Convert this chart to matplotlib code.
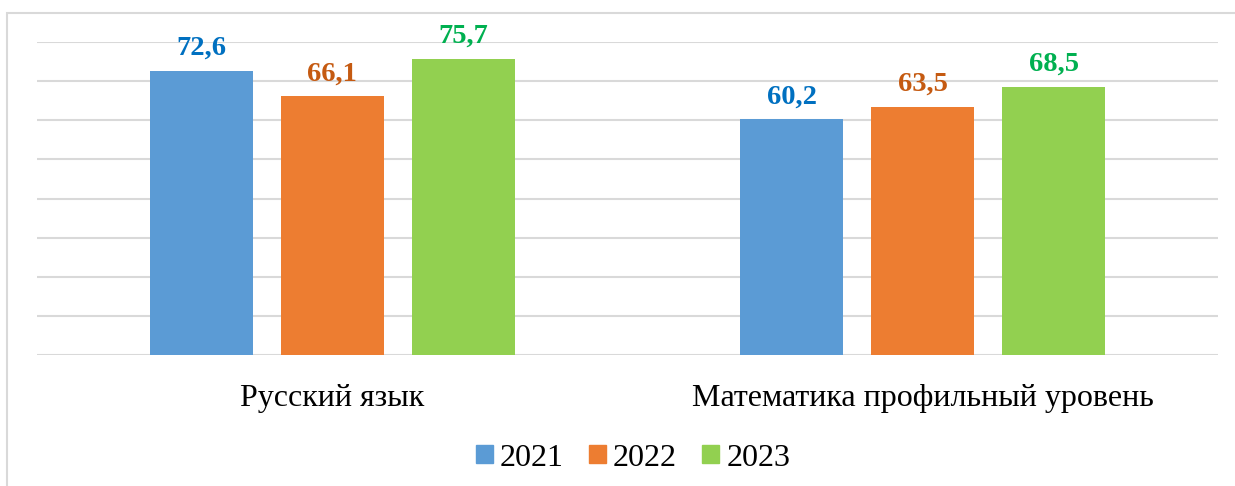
import numpy as np
import matplotlib.pyplot as plt
from matplotlib.patches import Rectangle

categories = ['Русский язык', 'Математика профильный уровень']
years = ['2021', '2022', '2023']
v2021 = [72.6, 60.2]
v2022 = [66.1, 63.5]
v2023 = [75.7, 68.5]

bar_colors = ['#5B9BD5', '#ED7D31', '#92D050']
label_colors = ['#0070C0', '#C55A11', '#00B050']

plt.rcParams['font.family'] = ['Liberation Serif', 'DejaVu Serif']

fig = plt.figure(figsize=(12.35, 4.86), dpi=100)
# рамка диаграммы
fig.add_artist(Rectangle((7 / 1235, -0.1), 1.2, 1 - 13 / 486 + 0.1,
                         transform=fig.transFigure, fill=False,
                         edgecolor='#d9d9d9', linewidth=1.5))

ax = fig.add_axes([37 / 1235, 1 - 355 / 486, (1218 - 37) / 1235, (355 - 42) / 486])

x = np.arange(len(categories))
width = 0.1745
step = 0.2218
series = [v2021, v2022, v2023]
for i, (vals, yr) in enumerate(zip(series, years)):
    bars = ax.bar(x + (i - 1) * step, vals, width, color=bar_colors[i], label=yr, zorder=3)
    for b, v in zip(bars, vals):
        ax.annotate(f'{v:.1f}'.replace('.', ','), (b.get_x() + b.get_width() / 2, v),
                    xytext=(0, 11.5), textcoords='offset points', ha='center', va='baseline',
                    fontsize=20.5, fontweight='bold', color=label_colors[i])

ax.set_xlim(-0.5, 1.5)
ax.set_ylim(0, 80)
ax.set_yticks(np.arange(0, 81, 10))
ax.yaxis.grid(True, color='#d9d9d9', linewidth=1.5, zorder=0)
ax.set_yticklabels([])
ax.tick_params(axis='y', length=0)
ax.set_xticks(x)
ax.set_xticklabels(categories, fontsize=23)
ax.tick_params(axis='x', length=0, pad=21)
for s in ax.spines.values():
    s.set_visible(False)

handles = [Rectangle((0, 0), 1, 1, color=c) for c in bar_colors]
fig.legend(handles, years, loc='center', bbox_to_anchor=(633 / 1235, 1 - 458 / 486),
           ncol=3, frameon=False, fontsize=23, handlelength=0.53, handleheight=0.5,
           handletextpad=0.22, columnspacing=0.8, borderpad=0, borderaxespad=0)

fig.savefig('out.png', dpi=100)
